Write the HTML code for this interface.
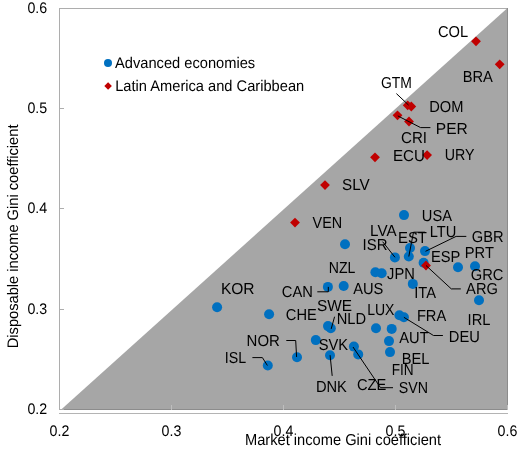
<!DOCTYPE html><html><head><meta charset="utf-8"><style>html,body{margin:0;padding:0;background:#fff;width:531px;height:451px;overflow:hidden}svg{display:block;will-change:transform}text{font-family:"Liberation Sans",sans-serif;font-size:14.67px;fill:#000;text-rendering:geometricPrecision}</style></head><body>
<svg width="531" height="451" viewBox="0 0 531 451">
<path d="M61.2 409.5L507.5 8L508 8L508 410L61.2 410Z" fill="#A6A6A6"/>
<rect x="59.5" y="8.5" width="448" height="401" fill="none" stroke="rgba(125,125,125,0.63)" stroke-width="1"/>
<path d="M59 413.5H508" stroke="#B4B4B4" stroke-width="1"/>
<path d="M60 8.5H64" stroke="#ADADAD" stroke-width="1"/>
<path d="M60 108.5H64" stroke="#ADADAD" stroke-width="1"/>
<path d="M60 208.5H64" stroke="#ADADAD" stroke-width="1"/>
<path d="M60 309.5H64" stroke="#ADADAD" stroke-width="1"/>
<path d="M60 409.5H64" stroke="#ADADAD" stroke-width="1"/>
<path d="M171.5 405V410" stroke="#BEBEBE" stroke-width="1"/>
<path d="M283.5 405V410" stroke="#BEBEBE" stroke-width="1"/>
<path d="M395.5 405V410" stroke="#BEBEBE" stroke-width="1"/>
<path d="M507.5 405V410" stroke="#BEBEBE" stroke-width="1"/>
<text transform="translate(47.20,13.20) scale(0.97,1.04)" text-anchor="end">0.6</text>
<text transform="translate(47.20,113.20) scale(0.97,1.04)" text-anchor="end">0.5</text>
<text transform="translate(47.20,213.20) scale(0.97,1.04)" text-anchor="end">0.4</text>
<text transform="translate(47.20,314.20) scale(0.97,1.04)" text-anchor="end">0.3</text>
<text transform="translate(47.20,414.20) scale(0.97,1.04)" text-anchor="end">0.2</text>
<text transform="translate(59.50,435.70) scale(0.97,1.04)" text-anchor="middle">0.2</text>
<text transform="translate(171.50,435.70) scale(0.97,1.04)" text-anchor="middle">0.3</text>
<text transform="translate(283.50,435.70) scale(0.97,1.04)" text-anchor="middle">0.4</text>
<text transform="translate(395.50,435.70) scale(0.97,1.04)" text-anchor="middle">0.5</text>
<text transform="translate(507.50,435.70) scale(0.97,1.04)" text-anchor="middle">0.6</text>
<text transform="translate(245.00,444.60) scale(1.0,1.08)">Market income Gini coefficient</text>
<text transform="translate(18.00,236.40) rotate(-90) scale(1.0,1.04)" text-anchor="middle">Disposable income Gini coefficient</text>
<circle cx="108" cy="63.1" r="4" fill="#0070C0"/>
<path d="M104.30 86.00L108.10 82.20L111.90 86.00L108.10 89.80Z" fill="#C00000"/>
<text transform="translate(115.00,67.60) scale(1.0,1.05)">Advanced economies</text>
<text transform="translate(115.20,90.50) scale(1.0,1.05)">Latin America and Caribbean</text>
<path d="M471.10 41.30L476.00 36.40L480.90 41.30L476.00 46.20Z" fill="#C00000"/>
<path d="M494.80 64.30L499.70 59.40L504.60 64.30L499.70 69.20Z" fill="#C00000"/>
<path d="M402.80 105.30L407.70 100.40L412.60 105.30L407.70 110.20Z" fill="#C00000"/>
<path d="M406.40 106.50L411.30 101.60L416.20 106.50L411.30 111.40Z" fill="#C00000"/>
<path d="M392.60 115.30L397.50 110.40L402.40 115.30L397.50 120.20Z" fill="#C00000"/>
<path d="M404.10 121.50L409.00 116.60L413.90 121.50L409.00 126.40Z" fill="#C00000"/>
<path d="M370.10 157.30L375.00 152.40L379.90 157.30L375.00 162.20Z" fill="#C00000"/>
<path d="M422.20 155.10L427.10 150.20L432.00 155.10L427.10 160.00Z" fill="#C00000"/>
<path d="M320.10 185.10L325.00 180.20L329.90 185.10L325.00 190.00Z" fill="#C00000"/>
<path d="M290.10 222.60L295.00 217.70L299.90 222.60L295.00 227.50Z" fill="#C00000"/>
<circle cx="404" cy="215.10" r="5" fill="#0070C0"/>
<circle cx="345" cy="244.30" r="5" fill="#0070C0"/>
<circle cx="410" cy="248.00" r="5" fill="#0070C0"/>
<circle cx="408.8" cy="256.50" r="5" fill="#0070C0"/>
<circle cx="425" cy="251.10" r="5" fill="#0070C0"/>
<circle cx="394.9" cy="257.40" r="5" fill="#0070C0"/>
<circle cx="423.6" cy="262.80" r="5" fill="#0070C0"/>
<circle cx="458" cy="267.20" r="5" fill="#0070C0"/>
<circle cx="475" cy="266.20" r="5" fill="#0070C0"/>
<circle cx="412.8" cy="283.90" r="5" fill="#0070C0"/>
<circle cx="479" cy="300.20" r="5" fill="#0070C0"/>
<circle cx="375.4" cy="272.30" r="5" fill="#0070C0"/>
<circle cx="381.7" cy="273.30" r="5" fill="#0070C0"/>
<circle cx="343.7" cy="286.00" r="5" fill="#0070C0"/>
<circle cx="327.9" cy="286.90" r="5" fill="#0070C0"/>
<circle cx="217.1" cy="307.20" r="5" fill="#0070C0"/>
<circle cx="269.1" cy="314.30" r="5" fill="#0070C0"/>
<circle cx="328" cy="326.10" r="5" fill="#0070C0"/>
<circle cx="330.8" cy="328.30" r="5" fill="#0070C0"/>
<circle cx="376" cy="328.30" r="5" fill="#0070C0"/>
<circle cx="399.4" cy="315.20" r="5" fill="#0070C0"/>
<circle cx="403.9" cy="317.30" r="5" fill="#0070C0"/>
<circle cx="391.7" cy="328.90" r="5" fill="#0070C0"/>
<circle cx="389" cy="341.10" r="5" fill="#0070C0"/>
<circle cx="390" cy="352.10" r="5" fill="#0070C0"/>
<circle cx="315.8" cy="340.10" r="5" fill="#0070C0"/>
<circle cx="297" cy="357.30" r="5" fill="#0070C0"/>
<circle cx="267.8" cy="365.50" r="5" fill="#0070C0"/>
<circle cx="330" cy="355.30" r="5" fill="#0070C0"/>
<circle cx="353.9" cy="346.60" r="5" fill="#0070C0"/>
<circle cx="358.2" cy="354.40" r="5" fill="#0070C0"/>
<path d="M421.10 265.50L426.00 260.60L430.90 265.50L426.00 270.40Z" fill="#C00000"/>
<path d="M396.40 93.60L408.60 105.10" fill="none" stroke="#000" stroke-width="1"/>
<path d="M430.40 127.60L420.60 127.60L397.80 115.90" fill="none" stroke="#000" stroke-width="1"/>
<path d="M425.10 232.20L413.50 232.20L408.80 256.50" fill="none" stroke="#000" stroke-width="1"/>
<path d="M466.30 236.40L456.10 236.40L425.50 251.30" fill="none" stroke="#000" stroke-width="1"/>
<path d="M382.60 241.70L395.00 257.30" fill="none" stroke="#000" stroke-width="1"/>
<path d="M460.80 288.90L451.30 288.90L426.00 265.50" fill="none" stroke="#000" stroke-width="1"/>
<path d="M317.30 291.80L328.30 291.80L328.30 286.90" fill="none" stroke="#000" stroke-width="1"/>
<path d="M334.60 316.70L331.20 328.90" fill="none" stroke="#000" stroke-width="1"/>
<path d="M442.90 335.50L433.50 335.50L403.90 317.30" fill="none" stroke="#000" stroke-width="1"/>
<path d="M286.30 340.50L295.70 340.50L296.60 357.00" fill="none" stroke="#000" stroke-width="1"/>
<path d="M252.40 357.60L262.40 357.60L267.40 365.50" fill="none" stroke="#000" stroke-width="1"/>
<path d="M330.10 355.20L332.20 375.90" fill="none" stroke="#000" stroke-width="1"/>
<path d="M393.00 387.70L380.50 387.70L353.00 347.00" fill="none" stroke="#000" stroke-width="1"/>
<text transform="translate(437.90,36.80) scale(1.0,1.08)">COL</text>
<text transform="translate(462.70,81.70) scale(1.0,1.08)">BRA</text>
<text transform="translate(381.00,87.90) scale(0.95,1.08)">GTM</text>
<text transform="translate(429.20,111.80) scale(1.0,1.08)">DOM</text>
<text transform="translate(435.80,133.90) scale(1.06,1.08)">PER</text>
<text transform="translate(401.00,142.60) scale(1.03,1.08)">CRI</text>
<text transform="translate(393.00,161.40) scale(1.03,1.08)">ECU</text>
<text transform="translate(444.80,159.70) scale(0.97,1.08)">URY</text>
<text transform="translate(342.00,189.90) scale(1.037,1.08)">SLV</text>
<text transform="translate(312.60,228.00) scale(0.98,1.08)">VEN</text>
<text transform="translate(421.80,220.70) scale(1.0,1.08)">USA</text>
<text transform="translate(370.10,235.90) scale(1.035,1.08)">LVA</text>
<text transform="translate(398.00,242.60) scale(1.016,1.08)">EST</text>
<text transform="translate(429.80,236.90) scale(1.0,1.08)">LTU</text>
<text transform="translate(471.80,241.50) scale(1.0,1.08)">GBR</text>
<text transform="translate(362.60,249.70) scale(1.02,1.08)">ISR</text>
<text transform="translate(430.90,261.50) scale(1.0,1.08)">ESP</text>
<text transform="translate(464.80,257.60) scale(1.0,1.08)">PRT</text>
<text transform="translate(470.80,280.20) scale(1.0,1.08)">GRC</text>
<text transform="translate(466.10,293.90) scale(1.0,1.08)">ARG</text>
<text transform="translate(328.80,273.30) scale(0.96,1.08)">NZL</text>
<text transform="translate(387.10,279.40) scale(1.0,1.08)">JPN</text>
<text transform="translate(353.20,294.00) scale(1.0,1.08)">AUS</text>
<text transform="translate(414.20,297.90) scale(1.0,1.08)">ITA</text>
<text transform="translate(281.80,296.90) scale(1.0,1.08)">CAN</text>
<text transform="translate(220.90,293.70) scale(1.06,1.08)">KOR</text>
<text transform="translate(285.80,320.10) scale(1.0,1.08)">CHE</text>
<text transform="translate(317.00,310.70) scale(1.05,1.08)">SWE</text>
<text transform="translate(367.20,314.90) scale(0.955,1.08)">LUX</text>
<text transform="translate(416.90,320.70) scale(1.0,1.08)">FRA</text>
<text transform="translate(336.70,323.90) scale(1.0,1.08)">NLD</text>
<text transform="translate(467.60,325.00) scale(1.0,1.08)">IRL</text>
<text transform="translate(448.80,342.00) scale(1.0,1.08)">DEU</text>
<text transform="translate(399.30,343.10) scale(1.0,1.08)">AUT</text>
<text transform="translate(246.60,345.80) scale(1.02,1.08)">NOR</text>
<text transform="translate(318.70,350.00) scale(1.0,1.08)">SVK</text>
<text transform="translate(401.80,363.80) scale(1.0,1.08)">BEL</text>
<text transform="translate(224.70,362.90) scale(0.97,1.08)">ISL</text>
<text transform="translate(391.70,375.00) scale(0.93,1.08)">FIN</text>
<text transform="translate(315.90,391.70) scale(1.0,1.08)">DNK</text>
<text transform="translate(356.90,389.60) scale(1.0,1.08)">CZE</text>
<text transform="translate(398.80,392.80) scale(0.97,1.08)">SVN</text>
</svg></body></html>
